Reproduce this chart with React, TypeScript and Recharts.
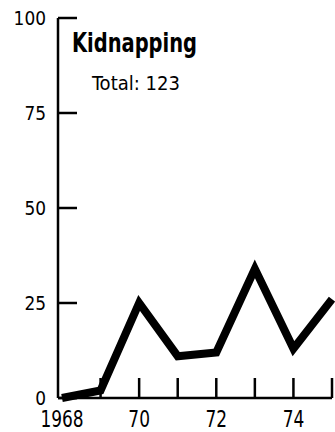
import { LineChart, Line, XAxis, YAxis } from "recharts";

const years = [1968, 1969, 1970, 1971, 1972, 1973, 1974, 1975];
const incidents = [0, 2, 25, 11, 12, 34, 13, 26];
const yTicks = [0, 25, 50, 75, 100];
const xLabels: Record<number, string> = { 1968: "1968", 1970: "70", 1972: "72", 1974: "74" };

const FONT = "'DejaVu Sans Condensed', 'DejaVu Sans', sans-serif";

const data = years.map((year, i) => ({ year, value: incidents[i] }));

// narrow lettering: squeeze glyphs to the width seen in the original
const DIGIT_W = 10.8;

function YTick({ x, y, payload }: any) {
  const s = String(payload.value);
  return (
    <g>
      <line x1={x} y1={y} x2={x + 19} y2={y} stroke="#000" strokeWidth={2.5} />
      <text
        x={x - 12}
        y={y + 7}
        textAnchor="end"
        fontFamily={FONT}
        fontSize={20}
        fill="#000"
        textLength={s.length * DIGIT_W}
        lengthAdjust="spacingAndGlyphs"
      >
        {s}
      </text>
    </g>
  );
}

function XTick({ x, y, payload }: any) {
  const label = xLabels[payload.value];
  return (
    <g>
      {payload.value !== 1968 && (
        <line x1={x} y1={y} x2={x} y2={y - 20} stroke="#000" strokeWidth={2.5} />
      )}
      {label && (
        <text
          x={x}
          y={y + 29}
          textAnchor="middle"
          fontFamily={FONT}
          fontSize={23}
          fill="#000"
          textLength={label.length * DIGIT_W}
          lengthAdjust="spacingAndGlyphs"
        >
          {label}
        </text>
      )}
    </g>
  );
}

export default function App() {
  return (
    <div style={{ position: "absolute", left: 0, top: 0, background: "#fff" }}>
      <LineChart width={335} height={432} data={data} margin={{ top: 18, right: 3, bottom: 0, left: 0 }}>
        <YAxis
          domain={[0, 100]}
          ticks={yTicks}
          interval={0}
          width={58}
          tickSize={0}
          tickMargin={0}
          tick={<YTick />}
          axisLine={{ stroke: "#000", strokeWidth: 2.5 }}
          tickLine={false}
        />
        <XAxis
          dataKey="year"
          type="number"
          domain={[1968, 1975]}
          ticks={years}
          interval={0}
          height={34}
          padding={{ left: 4, right: 0 }}
          tickSize={0}
          tickMargin={0}
          tick={<XTick />}
          axisLine={{ stroke: "#000", strokeWidth: 2.5 }}
          tickLine={false}
        />
        <Line
          dataKey="value"
          stroke="#000"
          strokeWidth={8}
          strokeLinejoin="miter"
          dot={false}
          isAnimationActive={false}
        />
        <text
          x={72}
          y={52}
          fontFamily={FONT}
          fontWeight="bold"
          fontSize={26}
          fill="#000"
          textLength={125}
          lengthAdjust="spacingAndGlyphs"
        >
          Kidnapping
        </text>
        <text
          x={92}
          y={90}
          fontFamily={FONT}
          fontSize={20}
          fill="#000"
          textLength={88}
          lengthAdjust="spacingAndGlyphs"
        >
          Total: 123
        </text>
      </LineChart>
    </div>
  );
}
